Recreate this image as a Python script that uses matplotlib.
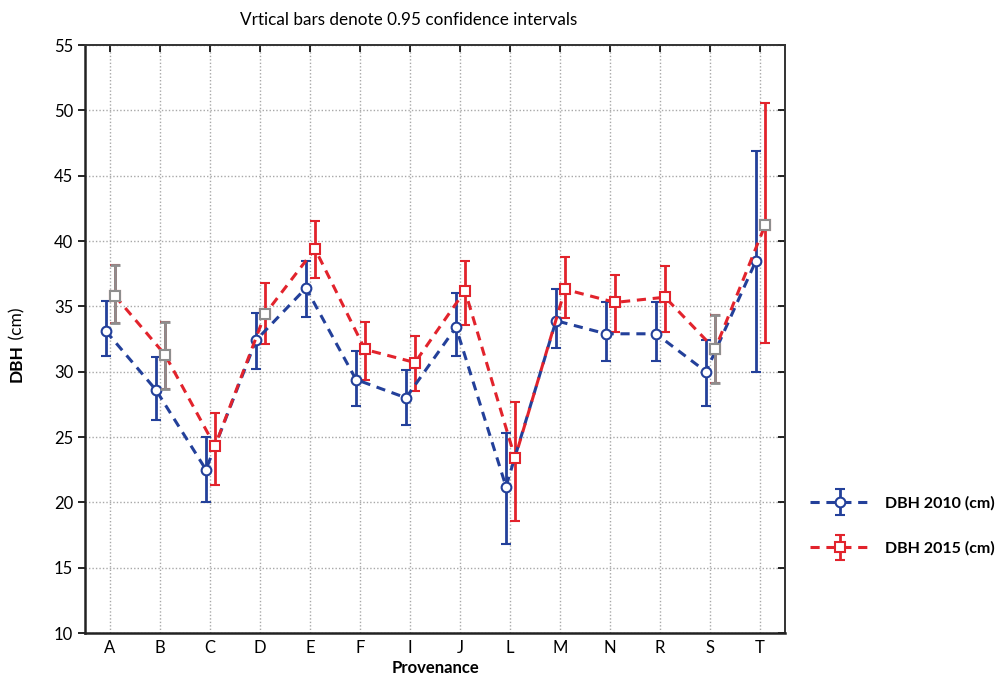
import matplotlib
matplotlib.use("Agg")
import matplotlib.pyplot as plt
from matplotlib.container import ErrorbarContainer
from matplotlib.legend_handler import HandlerErrorbar
import numpy as np

plt.rcParams['font.family'] = ['Lato', 'DejaVu Sans']

provenance = ["A", "B", "C", "D", "E", "F", "I", "J", "L", "M", "N", "R", "S", "T"]

dbh2010 = [33.1, 28.6, 22.5, 32.4, 36.4, 29.4, 28.0, 33.4, 21.2, 33.9, 32.9, 32.9, 30.0, 38.5]
lo2010 = [31.2, 26.3, 20.0, 30.2, 34.2, 27.4, 25.9, 31.2, 16.8, 31.8, 30.8, 30.8, 27.4, 30.0]
hi2010 = [35.4, 31.1, 25.0, 34.5, 38.5, 31.6, 30.1, 36.0, 25.3, 36.3, 35.3, 35.3, 32.4, 46.9]

dbh2015 = [35.8, 31.3, 24.3, 34.4, 39.4, 31.7, 30.7, 36.2, 23.4, 36.3, 35.3, 35.7, 31.7, 41.2]
lo2015 = [33.7, 28.7, 21.3, 32.1, 37.2, 29.4, 28.5, 33.6, 18.6, 34.1, 33.0, 33.0, 29.1, 32.2]
hi2015 = [38.2, 33.8, 26.8, 36.8, 41.5, 33.8, 32.7, 38.5, 27.7, 38.8, 37.4, 38.1, 34.3, 50.6]

# points drawn grey in the original output
grey_bars_2015 = ["A", "B", "S"]
grey_marks_2015 = ["A", "B", "D", "S", "T"]

blue = "#23409a"
red = "#e2232c"
grey = "#8e8e8e"

fig = plt.figure(figsize=(10.03, 6.76), dpi=100)
ax = fig.add_axes([0.0847, 0.0636, 0.698, 0.8698])

x = np.arange(len(provenance))
x10 = x - 0.08
x15 = x + 0.10

m10 = np.array(dbh2010)
m15 = np.array(dbh2015)
err10 = [m10 - np.array(lo2010), np.array(hi2010) - m10]
err15 = [m15 - np.array(lo2015), np.array(hi2015) - m15]

ax.errorbar(x10, m10, yerr=err10, fmt='o', ls=(0, (3, 2.2)), lw=2.2, color=blue,
            ecolor=blue, elinewidth=2, capsize=3.5, capthick=2, ms=7,
            mfc='white', mec=blue, mew=1.5, label='DBH 2010 (cm)', zorder=3)
ax.errorbar(x15, m15, yerr=err15, fmt='s', ls=(0, (3, 2.2)), lw=2.2, color=red,
            ecolor=red, elinewidth=2, capsize=3.5, capthick=2, ms=7,
            mfc='white', mec=red, mew=1.5, label='DBH 2015 (cm)', zorder=3)

# grey overlays
for i, p in enumerate(provenance):
    if p in grey_bars_2015:
        ax.errorbar([x15[i]], [m15[i]], yerr=[[err15[0][i]], [err15[1][i]]], fmt='none',
                    ecolor=grey, elinewidth=2, capsize=3.5, capthick=2, zorder=4)
    if p in grey_marks_2015:
        ax.plot([x15[i]], [m15[i]], 's', ms=7, mfc='white', mec=grey, mew=1.5, zorder=5)

ax.set_xlim(-0.5, len(provenance) - 0.5)
ax.set_ylim(10, 55)
ax.set_xticks(x)
ax.set_xticklabels(provenance, fontsize=12)
ax.set_yticks(np.arange(10, 56, 5))
ax.tick_params(axis='y', labelsize=12, direction='out', length=5, width=1.2, right=True)
ax.tick_params(axis='x', bottom=False, top=True, direction='in', length=5, width=1.2, pad=5)
for t in ax.yaxis.get_major_ticks():
    t.tick2line.set_marker(matplotlib.markers.TICKLEFT)
ax.grid(True, color='#a8a8a8', linestyle=(0, (1, 1.5)), linewidth=1)
ax.set_axisbelow(True)

for s in ['left', 'bottom']:
    ax.spines[s].set_linewidth(1.8)
    ax.spines[s].set_color('#222222')
for s in ['top', 'right']:
    ax.spines[s].set_linewidth(1.4)
    ax.spines[s].set_color('#333333')

ax.set_xlabel('Provenance', fontsize=12, fontweight='bold', labelpad=3)

# y label: bold "DBH" + normal "(cm)"
t1 = fig.text(17 / 1003, 0.435, 'DBH', rotation=90, fontsize=12.5, fontweight='bold',
              ha='center', va='bottom')
ax.annotate(' (cm)', xy=(0.5, 1.0), xycoords=t1, rotation=90, fontsize=12.5,
            ha='center', va='bottom')

fig.text(409 / 1003, 1 - 20 / 676, 'Vrtical bars denote 0.95 confidence intervals',
         fontsize=12.3, ha='center', va='center')

leg = ax.legend(loc='center left', bbox_to_anchor=(1.036, 0.182), frameon=False,
                fontsize=11.5, handlelength=3.7, labelspacing=1.95, handletextpad=1.0,
                borderaxespad=0, borderpad=0,
                handler_map={ErrorbarContainer: HandlerErrorbar(xerr_size=0.5, yerr_size=0.8)})
for t in leg.get_texts():
    t.set_fontweight('bold')

plt.savefig('out.png', dpi=100)
plt.close()
